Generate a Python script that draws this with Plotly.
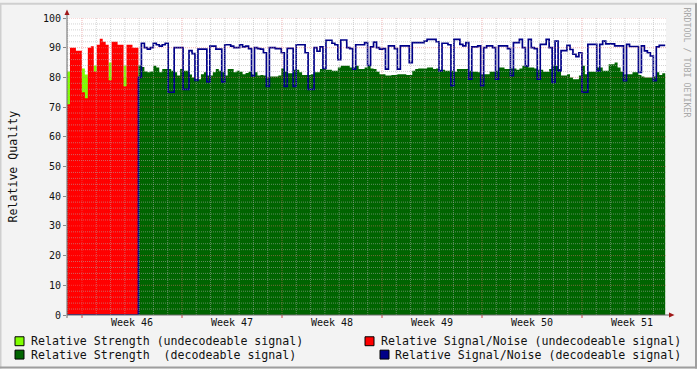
import plotly.graph_objects as go
from datetime import datetime, timedelta

# ---------------- data (5-hour samples) ----------------
START = datetime(2009, 11, 7, 22, 48)
STEP_HOURS = 5
SPAN_HOURS = 1006.3

# undecodeable period (first 24 samples)
strength_undecodeable = [82, 80, 80, 80, 80, 83, 81, 80, 80, 84, 80, 80,
                         80, 80, 85, 80, 80, 80, 80, 84, 80, 80, 80, 80]
snr_undecodeable = [71, 90, 90, 89, 89, 75, 73, 90, 90.5, 82, 91, 93,
                    92, 91, 79, 92, 92, 91, 91, 77, 91, 91, 90, 90]

# decodeable period (following 177 samples)
strength_decodeable = [
    84, 83.5, 82, 81.7, 82, 83.9, 83.3, 81.7, 82.8, 82.8,
    82.8, 82.2, 81.7, 80.6, 82.8, 82.2, 82.2, 81, 80, 79.4,
    79.4, 81.1, 81.7, 80.6, 80.6, 81.7, 82.8, 82.2, 81.7, 80.6,
    82.8, 82.8, 81.7, 82.2, 81.9, 81.1, 81.5, 81.9, 81.1, 81.7,
    80.6, 80.8, 80.6, 80, 80.3, 80.3, 80.3, 80.6, 83, 81.9,
    81.4, 81.4, 82.6, 82.6, 81.7, 80.8, 80.8, 80.8, 81.1, 81.7,
    81.7, 82.8, 83, 82.6, 82.6, 82.2, 82.2, 83.3, 83.9, 83.9,
    83.9, 83.3, 83.3, 83.9, 82.8, 82.8, 83.3, 83.9, 83, 82.8,
    81.9, 81.1, 81.1, 80.6, 80.6, 80.8, 80.8, 81.1, 81.1, 81.1,
    80.8, 80.8, 82.2, 82.8, 83, 83, 83, 83.3, 83.3, 82.8,
    83, 82.6, 82.6, 82.2, 82.2, 82.2, 81.9, 82.8, 82.8, 82.8,
    82.8, 82.2, 81.9, 81.9, 81.7, 81.1, 81.1, 81.1, 81.9, 81.9,
    82.2, 83.3, 83.3, 82.8, 82.8, 83, 83, 82.6, 83, 83.9,
    83.9, 83.3, 83.3, 83, 82.6, 82.6, 81.9, 81.9, 82.8, 83.9,
    83.9, 82.8, 80.6, 80.6, 81.1, 80, 79.4, 79.4, 80.6, 83.9,
    81.1, 81.9, 81.9, 81.9, 83.3, 83.3, 82.2, 82.2, 84.4, 84.4,
    85, 83.3, 81.9, 81.1, 81.1, 81.1, 81.7, 81.7, 80.8, 80.3,
    80, 80, 80, 80.3, 81.7, 80.8, 81.4]
snr_decodeable = [
    80, 91.5, 90, 89.5, 90, 91.5, 91, 90.5, 91, 91.5,
    75, 75, 90, 90, 90, 76, 76, 89, 88, 79,
    89.5, 89.5, 89.5, 78.5, 90.5, 90.5, 89.5, 89.5, 78.5, 91,
    91, 90.5, 90, 90, 91, 90.3, 90.5, 89.7, 80.5, 90,
    89.7, 89.5, 88.3, 77, 90, 90, 89.7, 89.7, 88.3, 77,
    89.8, 89.8, 77, 91, 91, 91, 88.3, 76, 76, 90,
    88.8, 90.3, 83, 92.5, 92.5, 91.5, 91, 86, 92.6, 92.6,
    90, 89.7, 82.8, 91, 91, 91, 91.7, 84, 90.3, 91.9,
    90, 89.5, 89.7, 82.8, 90.6, 90.6, 89.7, 82.8, 90.6, 90.6,
    90.6, 85, 91.7, 91.7, 91.7, 91.7, 92.2, 92.8, 92.8, 92.8,
    92, 82.2, 91.5, 91.5, 91, 77.2, 92.8, 92.8, 91.1, 90.6,
    91.7, 79.4, 90.3, 90.3, 90.6, 77.2, 90, 90.6, 90.6, 90,
    79.4, 90.6, 90.6, 90.6, 89.7, 80.6, 91.7, 91.7, 92.8, 90,
    83.9, 92.8, 90, 89.7, 79.4, 91.1, 91.1, 92.8, 90, 78.3,
    92.2, 82.2, 89, 89, 90.8, 89.4, 87.8, 87, 88.3, 75,
    75, 91.1, 91.1, 91.1, 82.2, 91.1, 92.2, 91.3, 91.3, 91.3,
    90.6, 90.6, 90.6, 78.9, 91.1, 90.4, 90.4, 90.4, 81.7, 90.6,
    88.9, 88.3, 87.2, 78.9, 90.3, 90.8, 90.8]

WEEK_LABELS = ["Week 46", "Week 47", "Week 48", "Week 49", "Week 50", "Week 51"]
FIRST_MONDAY = datetime(2009, 11, 9)
Y_TICKS = [0, 10, 20, 30, 40, 50, 60, 70, 80, 90, 100]

LEGEND = [
    ("Relative Strength (undecodeable signal)", "#80ff00", 15, 341.5, 30),
    ("Relative Signal/Noise (undecodeable signal)", "#ff0000", 365, 341.5, 380),
    ("Relative Strength\u00a0 (decodeable signal)", "#006400", 15, 355, 30),
    ("Relative Signal/Noise (decodeable signal)", "#000088", 380, 355, 394),
]

# ---------------- build series ----------------
n_und = len(snr_undecodeable)
n_dec = len(snr_decodeable)
N = n_und + n_dec
xs = [START + timedelta(hours=STEP_HOURS * i) for i in range(N + 1)]

def full(first, second):
    v = list(first) + list(second)
    return v + [v[-1]]

s_und = full(strength_undecodeable, [0] * n_dec)
r_und = full(snr_undecodeable, [0] * n_dec)
s_dec = full([0] * n_und, strength_decodeable)
r_dec = full([0] * n_und, snr_decodeable)

END = START + timedelta(hours=SPAN_HOURS)

W, H = 697, 369
L, R, T, B = 67, 666, 15, 315
def pxx(px):
    return (px - L) / (R - L)
def pxy(py):
    return (B - py) / (B - T)

MONO = "DejaVu Sans Mono"

fig = go.Figure()
fig.add_trace(go.Scatter(x=xs, y=s_und, mode="lines", fill="tozeroy",
                         line=dict(width=0, shape="hv"), fillcolor="#80ff00",
                         hoverinfo="skip"))
fig.add_trace(go.Scatter(x=xs, y=r_und, mode="lines", fill="tozeroy",
                         line=dict(width=0, shape="hv"), fillcolor="#ff0000",
                         hoverinfo="skip"))
fig.add_trace(go.Scatter(x=xs, y=s_dec, mode="lines", fill="tozeroy",
                         line=dict(width=0, shape="hv"), fillcolor="#006400",
                         hoverinfo="skip"))
fig.add_trace(go.Scatter(x=xs, y=r_dec, mode="lines",
                         line=dict(width=1.7, shape="hv", color="#000088"),
                         hoverinfo="skip"))

shapes = []
# grid lines drawn above the data (as rrdtool does)
minor_grid = "rgba(175,175,175,0.55)"
major_grid = "rgba(230,110,110,0.50)"
for v in range(2, 101, 2):
    shapes.append(dict(type="line", xref="paper", yref="y", x0=0, x1=1, y0=v, y1=v,
                       line=dict(color=major_grid if v % 10 == 0 else minor_grid,
                                 width=1, dash="1px,1px"), layer="above"))
day = datetime(2009, 11, 8)
while day < END:
    is_monday = day.weekday() == 0
    shapes.append(dict(type="line", xref="x", yref="paper", x0=day, x1=day, y0=0, y1=1,
                       line=dict(color=major_grid if is_monday else minor_grid,
                                 width=1, dash="1px,1px"), layer="above"))
    if is_monday:
        shapes.append(dict(type="line", xref="x", yref="paper", x0=day, x1=day,
                           y0=0, y1=pxy(B + 3), line=dict(color="#d04040", width=1),
                           layer="above"))
    day += timedelta(days=1)

# axes with arrows
axis_col = "#6a6a6a"
shapes.append(dict(type="line", xref="paper", yref="paper", x0=0, x1=0,
                   y0=pxy(B + 3), y1=pxy(10), line=dict(color=axis_col, width=1), layer="above"))
shapes.append(dict(type="line", xref="paper", yref="paper", x0=0, x1=pxx(671),
                   y0=0, y1=0, line=dict(color=axis_col, width=1), layer="above"))
shapes.append(dict(type="path", xref="paper", yref="paper",
                   path=f"M {pxx(64.5)} {pxy(12)} L {pxx(69.5)} {pxy(12)} L {pxx(67)} {pxy(6.5)} Z",
                   fillcolor="#a01818", line=dict(width=0), layer="above"))
shapes.append(dict(type="path", xref="paper", yref="paper",
                   path=f"M {pxx(669)} {pxy(312.5)} L {pxx(669)} {pxy(317.5)} L {pxx(674.5)} {pxy(315)} Z",
                   fillcolor="#a01818", line=dict(width=0), layer="above"))

# canvas 3D border
shapes.append(dict(type="line", xref="paper", yref="paper", x0=pxx(0), x1=pxx(W),
                   y0=pxy(0.5), y1=pxy(0.5), line=dict(color="#cfcfcf", width=2)))
shapes.append(dict(type="line", xref="paper", yref="paper", x0=pxx(0.5), x1=pxx(0.5),
                   y0=pxy(0), y1=pxy(H), line=dict(color="#cfcfcf", width=2)))
shapes.append(dict(type="line", xref="paper", yref="paper", x0=pxx(0), x1=pxx(W),
                   y0=pxy(H - 1), y1=pxy(H - 1), line=dict(color="#9e9e9e", width=2)))
shapes.append(dict(type="line", xref="paper", yref="paper", x0=pxx(W - 1), x1=pxx(W - 1),
                   y0=pxy(0), y1=pxy(H), line=dict(color="#9e9e9e", width=2)))

annotations = []
for text, col, sx, sy, tx in LEGEND:
    shapes.append(dict(type="rect", xref="paper", yref="paper",
                       x0=pxx(sx), x1=pxx(sx + 9), y0=pxy(sy - 4.5), y1=pxy(sy + 4.5),
                       fillcolor=col, line=dict(color="#000000", width=1)))
    annotations.append(dict(text=text, xref="paper", yref="paper", x=pxx(tx - 1), y=pxy(sy),
                            xanchor="left", yanchor="middle", showarrow=False,
                            font=dict(family=MONO, size=11.6, color="#111111")))

annotations.append(dict(text="Relative Quality", xref="paper", yref="paper",
                        x=pxx(12), y=pxy(165), textangle=-90, xanchor="center",
                        yanchor="middle", showarrow=False,
                        font=dict(family=MONO, size=11.6, color="#111111")))
annotations.append(dict(text="RRDTOOL / TOBI OETIKER", xref="paper", yref="paper",
                        x=pxx(687), y=pxy(60), textangle=90, xanchor="center",
                        yanchor="middle", showarrow=False,
                        font=dict(family=MONO, size=8.3, color="#a8a8a8")))

week_mids = [FIRST_MONDAY + timedelta(days=7 * k + 3.5) for k in range(len(WEEK_LABELS))]

fig.update_layout(
    width=W, height=H,
    margin=dict(l=L, r=W - R, t=T, b=H - B),
    paper_bgcolor="#f3f3f3", plot_bgcolor="#ffffff",
    showlegend=False,
    shapes=shapes, annotations=annotations,
    xaxis=dict(type="date", range=[START, END], tickvals=week_mids, ticktext=WEEK_LABELS,
               ticks="", showgrid=False, zeroline=False, showline=False,
               tickfont=dict(family=MONO, size=10, color="#111111")),
    yaxis=dict(range=[0, 100], tickvals=Y_TICKS, ticks="outside", ticklen=3,
               tickcolor="#888888", showgrid=False, zeroline=False, showline=False,
               tickfont=dict(family=MONO, size=10, color="#111111")),
)

fig.write_html("out.html")
